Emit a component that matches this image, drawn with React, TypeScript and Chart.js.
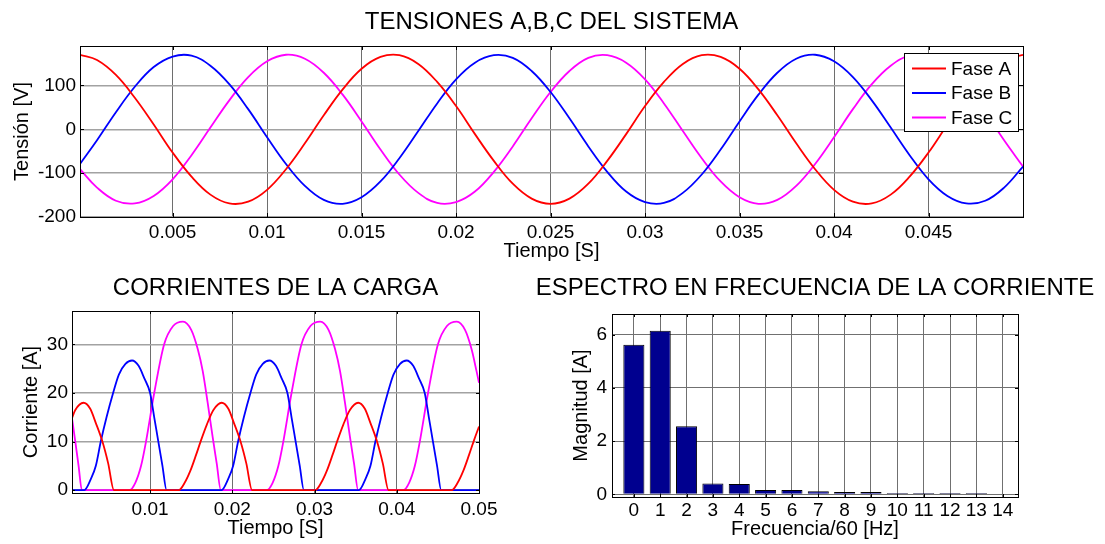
import { useEffect, useRef } from 'react';
import { Chart, registerables } from 'chart.js';

Chart.register(...registerables);

const FONT = "'Liberation Sans', Arial, Helvetica, sans-serif";

// ---- Supply voltages (V) ----
const voltageTime = [
  0.0001, 0.001, 0.002, 0.003, 0.004, 0.005, 0.006, 0.007, 0.008, 0.009,
  0.01, 0.011, 0.012, 0.013, 0.014, 0.015, 0.016, 0.017, 0.018, 0.019,
  0.02, 0.021, 0.022, 0.023, 0.024, 0.025, 0.026, 0.027, 0.028, 0.029,
  0.03, 0.031, 0.032, 0.033, 0.034, 0.035, 0.036, 0.037, 0.038, 0.039,
  0.04, 0.041, 0.042, 0.043, 0.044, 0.045, 0.046, 0.047, 0.048, 0.049, 0.05,
];
const voltageA = [
  170, 158, 124, 72, 11, -53, -108, -149, -169, -165,
  -138, -91, -32, 32, 91, 138, 165, 169, 149, 108,
  53, -11, -72, -124, -158, -170, -158, -124, -72, -11,
  53, 108, 149, 169, 165, 138, 91, 32, -32, -91,
  -138, -165, -169, -149, -108, -53, 11, 72, 124, 158, 170,
];
const voltageB = [
  -79, -25, 39, 97, 142, 166, 168, 145, 103, 46,
  -18, -79, -129, -161, -170, -155, -119, -66, -4, 59,
  114, 152, 169, 163, 133, 85, 25, -39, -97, -142,
  -166, -168, -145, -103, -46, 18, 79, 129, 161, 170,
  155, 119, 66, 4, -59, -114, -152, -169, -163, -133, -85,
];
const voltageC = [
  -91, -133, -163, -169, -152, -114, -59, 4, 66, 119,
  155, 170, 161, 129, 79, 18, -46, -103, -145, -168,
  -166, -142, -97, -39, 25, 85, 133, 163, 169, 152,
  114, 59, -4, -66, -119, -155, -170, -161, -129, -79,
  -18, 46, 103, 145, 168, 166, 142, 97, 39, -25, -85,
];
const voltageXTicks = [0.005, 0.01, 0.015, 0.02, 0.025, 0.03, 0.035, 0.04, 0.045];
const voltageXTickLabels = ['0.005', '0.01', '0.015', '0.02', '0.025', '0.03', '0.035', '0.04', '0.045'];
const voltageYTicks = [-200, -100, 0, 100];
const voltageYTickLabels = ['-200', '-100', '0', '100'];

// ---- Load currents (A) ----
const currentATime = [
  0.0005, 0.0009, 0.0019, 0.0027, 0.0034, 0.0042, 0.0049, 0.0056,
  0.0135, 0.0142, 0.0149, 0.0156, 0.0162, 0.0169, 0.0177, 0.0187, 0.0195, 0.0202, 0.021, 0.0217, 0.0224,
  0.0301, 0.0308, 0.0315, 0.0322, 0.0328, 0.0335, 0.0343, 0.0353, 0.0361, 0.0368, 0.0376, 0.0383, 0.039,
  0.0467, 0.0474, 0.0481, 0.0488, 0.0494, 0.05,
];
const currentA = [
  14.8, 16.5, 18.0, 16.8, 13.8, 10.0, 5.5, 0,
  0, 1.5, 4.0, 7.3, 10.3, 13.5, 16.5, 18.0, 16.8, 13.8, 10.0, 5.5, 0,
  0, 1.5, 4.0, 7.3, 10.3, 13.5, 16.5, 18.0, 16.8, 13.8, 10.0, 5.5, 0,
  0, 1.5, 4.0, 7.3, 10.3, 13.1,
];
const currentBTime = [
  0.0005,
  0.002, 0.0028, 0.0034, 0.004, 0.0047, 0.0055, 0.0062, 0.007, 0.0078, 0.0086, 0.0093, 0.01, 0.0105, 0.011, 0.0115, 0.012,
  0.0187, 0.0195, 0.0201, 0.0207, 0.0214, 0.0222, 0.0229, 0.0237, 0.0245, 0.0253, 0.026, 0.0267, 0.0272, 0.0277, 0.0282, 0.0287,
  0.0354, 0.0362, 0.0368, 0.0374, 0.0381, 0.0389, 0.0396, 0.0404, 0.0412, 0.042, 0.0427, 0.0434, 0.0439, 0.0444, 0.0449, 0.0454,
  0.05,
];
const currentB = [
  0,
  0, 2.3, 5, 10, 15, 20, 23.8, 26, 26.7, 25.6, 23, 20, 15, 10, 5, 0,
  0, 2.3, 5, 10, 15, 20, 23.8, 26, 26.7, 25.6, 23, 20, 15, 10, 5, 0,
  0, 2.3, 5, 10, 15, 20, 23.8, 26, 26.7, 25.6, 23, 20, 15, 10, 5, 0,
  0,
];
const currentCTime = [
  0.0005, 0.0009, 0.0013, 0.0017,
  0.0075, 0.0082, 0.0089, 0.0095, 0.0105, 0.0117, 0.0128, 0.014, 0.015, 0.0158, 0.0164, 0.017, 0.0176, 0.0181, 0.0186,
  0.0242, 0.0249, 0.0256, 0.0262, 0.0272, 0.0284, 0.0295, 0.0307, 0.0317, 0.0325, 0.0331, 0.0337, 0.0343, 0.0348, 0.0353,
  0.0408, 0.0415, 0.0422, 0.0428, 0.0438, 0.045, 0.0461, 0.0473, 0.0483, 0.0491, 0.0497, 0.05,
];
const currentC = [
  14.8, 10, 5, 0,
  0, 1.5, 5, 10, 20, 30, 33.8, 34.7, 33, 29, 24.5, 18, 11, 5.5, 0,
  0, 1.5, 5, 10, 20, 30, 33.8, 34.7, 33, 29, 24.5, 18, 11, 5.5, 0,
  0, 1.5, 5, 10, 20, 30, 33.8, 34.7, 33, 29, 24.5, 22.1,
];
const currentXTicks = [0.01, 0.02, 0.03, 0.04, 0.05];
const currentXTickLabels = ['0.01', '0.02', '0.03', '0.04', '0.05'];
const currentYTicks = [0, 10, 20, 30];
const currentYTickLabels = ['0', '10', '20', '30'];

// ---- Current spectrum ----
const harmonicOrder = [0, 1, 2, 3, 4, 5, 6, 7, 8, 9, 10, 11, 12, 13, 14];
const harmonicMagnitude = [5.62, 6.15, 2.56, 0.41, 0.39, 0.16, 0.16, 0.12, 0.09, 0.09, 0.05, 0.05, 0.05, 0.05, 0.02];
const spectrumYTicks = [0, 2, 4, 6];
const spectrumYTickLabels = ['0', '2', '4', '6'];

const tickFont = { family: FONT, size: 19 };
const labelFont = { family: FONT, size: 20, lineHeight: 1.2 };

const fixedTicks = (values: number[]) => (axis: any) => {
  axis.ticks = values.map((value) => ({ value }));
};
const fitWidth = (w: number) => (axis: any) => {
  axis.width = w;
  axis.paddingTop = 0;
  axis.paddingBottom = 0;
};
const fitHeight = (h: number) => (axis: any) => {
  axis.height = h;
  axis.paddingLeft = 0;
  axis.paddingRight = 0;
};

// Axes box, inward tick marks, heading and an in-plot legend
const axesDecor = {
  id: 'axesDecor',
  afterDatasetsDraw(chart: any, _args: any, opts: any) {
    const { ctx, chartArea: a } = chart;
    const xs = chart.scales.x;
    const ys = chart.scales.y;
    ctx.save();

    if (opts.legend) {
      const L = opts.legend;
      ctx.fillStyle = '#fff';
      ctx.fillRect(L.left, L.top, L.right - L.left, L.bottom - L.top);
      ctx.strokeStyle = '#000';
      ctx.lineWidth = 1;
      ctx.strokeRect(L.left + 0.5, L.top + 0.5, L.right - L.left, L.bottom - L.top);
      ctx.font = `19px ${FONT}`;
      ctx.textAlign = 'left';
      ctx.textBaseline = 'middle';
      chart.data.datasets.forEach((ds: any, i: number) => {
        const y = L.firstRow + i * L.rowGap;
        ctx.strokeStyle = ds.borderColor;
        ctx.lineWidth = 1.8;
        ctx.beginPath();
        ctx.moveTo(L.lineFrom, y);
        ctx.lineTo(L.lineTo, y);
        ctx.stroke();
        ctx.fillStyle = '#000';
        ctx.fillText(ds.label, L.textX, y + 1);
      });
    }

    ctx.strokeStyle = '#000';
    ctx.lineWidth = 1;
    const len = opts.tickLength;
    ctx.beginPath();
    xs.ticks.forEach((t: any) => {
      const p = Math.round(xs.getPixelForValue(t.value)) + 0.5;
      ctx.moveTo(p, a.top);
      ctx.lineTo(p, a.top + len);
      ctx.moveTo(p, a.bottom);
      ctx.lineTo(p, a.bottom - len);
    });
    ys.ticks.forEach((t: any) => {
      const p = Math.round(ys.getPixelForValue(t.value)) + 0.5;
      ctx.moveTo(a.left, p);
      ctx.lineTo(a.left + len, p);
      ctx.moveTo(a.right, p);
      ctx.lineTo(a.right - len, p);
    });
    ctx.stroke();
    ctx.strokeRect(Math.round(a.left) + 0.5, Math.round(a.top) + 0.5, Math.round(a.right - a.left), Math.round(a.bottom - a.top));

    ctx.fillStyle = '#000';
    ctx.font = `24px ${FONT}`;
    ctx.textAlign = 'center';
    ctx.textBaseline = 'middle';
    ctx.fillText(opts.heading, (a.left + a.right) / 2, opts.headingY);
    ctx.restore();
  },
};

const vGrid = { color: '#6e6e6e', lineWidth: 1, drawTicks: false };
const hGrid = { color: '#a2a2a2', lineWidth: 1.5, drawTicks: false };

function buildVoltage(canvas: HTMLCanvasElement) {
  const series = [
    { label: 'Fase A', values: voltageA, color: '#ff0000' },
    { label: 'Fase B', values: voltageB, color: '#0000ff' },
    { label: 'Fase C', values: voltageC, color: '#ff00ff' },
  ];
  return new Chart(canvas, {
    type: 'line',
    data: {
      datasets: series.map((s) => ({
        label: s.label,
        data: voltageTime.map((t, i) => ({ x: t, y: s.values[i] })),
        borderColor: s.color,
        backgroundColor: s.color,
        borderWidth: 1.8,
        pointRadius: 0,
        tension: 0.4,
      })),
    },
    options: {
      responsive: false,
      animation: false,
      layout: { padding: { left: 0, right: 82, top: 46, bottom: 8 } },
      plugins: {
        legend: { display: false },
        tooltip: { enabled: false },
        axesDecor: {
          heading: 'TENSIONES A,B,C DEL SISTEMA',
          headingY: 22,
          tickLength: 4,
          legend: { left: 904, top: 53, right: 1018, bottom: 131, firstRow: 68.5, rowGap: 24.5, lineFrom: 912, lineTo: 946, textX: 951 },
        },
      } as any,
      scales: {
        x: {
          type: 'linear',
          min: 0.0001,
          max: 0.05,
          afterBuildTicks: fixedTicks(voltageXTicks),
          afterFit: fitHeight(55),
          ticks: { callback: (_v: any, i: number) => voltageXTickLabels[i], font: tickFont, color: '#000', padding: 4, autoSkip: false, maxRotation: 0 },
          grid: vGrid,
          border: { display: false },
          title: { display: true, text: 'Tiempo [S]', font: labelFont, color: '#000', padding: { top: 0, bottom: 9 } },
        },
        y: {
          type: 'linear',
          min: -200,
          max: 190,
          afterBuildTicks: fixedTicks(voltageYTicks),
          afterFit: fitWidth(80),
          ticks: { callback: (_v: any, i: number) => voltageYTickLabels[i], font: tickFont, color: '#000', padding: 4 },
          grid: hGrid,
          border: { display: false },
          title: { display: true, text: 'Tensión [V]', font: labelFont, color: '#000', padding: { top: 10.5, bottom: 0 } },
        },
      },
    },
    plugins: [axesDecor],
  } as any);
}

function buildCurrent(canvas: HTMLCanvasElement) {
  const series = [
    { label: 'Fase A', time: currentATime, values: currentA, color: '#ff0000' },
    { label: 'Fase B', time: currentBTime, values: currentB, color: '#0000ff' },
    { label: 'Fase C', time: currentCTime, values: currentC, color: '#ff00ff' },
  ];
  return new Chart(canvas, {
    type: 'line',
    data: {
      datasets: series.map((s) => ({
        label: s.label,
        data: s.time.map((t, i) => ({ x: t, y: s.values[i] })),
        borderColor: s.color,
        backgroundColor: s.color,
        borderWidth: 1.8,
        pointRadius: 0,
        cubicInterpolationMode: 'monotone',
      })),
    },
    options: {
      responsive: false,
      animation: false,
      layout: { padding: { left: 0, right: 51, top: 41, bottom: 1 } },
      plugins: {
        legend: { display: false },
        tooltip: { enabled: false },
        axesDecor: { heading: 'CORRIENTES DE LA CARGA', headingY: 18.5, tickLength: 3 },
      } as any,
      scales: {
        x: {
          type: 'linear',
          min: 0.0005,
          max: 0.05,
          afterBuildTicks: fixedTicks(currentXTicks),
          afterFit: fitHeight(50),
          ticks: { callback: (_v: any, i: number) => currentXTickLabels[i], font: tickFont, color: '#000', padding: 5, autoSkip: false, maxRotation: 0 },
          grid: vGrid,
          border: { display: false },
          title: { display: true, text: 'Tiempo [S]', font: labelFont, color: '#000', padding: { top: 0, bottom: 2.3 } },
        },
        y: {
          type: 'linear',
          min: -0.6,
          max: 36.9,
          afterBuildTicks: fixedTicks(currentYTicks),
          afterFit: fitWidth(72),
          ticks: { callback: (_v: any, i: number) => currentYTickLabels[i], font: tickFont, color: '#000', padding: 4 },
          grid: hGrid,
          border: { display: false },
          title: { display: true, text: 'Corriente [A]', font: labelFont, color: '#000', padding: { top: 19, bottom: 0 } },
        },
      },
    },
    plugins: [axesDecor],
  } as any);
}

function buildSpectrum(canvas: HTMLCanvasElement) {
  const grid = { color: '#707070', lineWidth: 1, drawTicks: false, offset: false };
  return new Chart(canvas, {
    type: 'bar',
    data: {
      datasets: [
        {
          label: 'Magnitud',
          data: harmonicOrder.map((h, i) => ({ x: h, y: harmonicMagnitude[i] })),
          backgroundColor: '#00008f',
          borderColor: '#000000',
          borderWidth: 1,
          barPercentage: 0.8,
          categoryPercentage: 1,
        },
      ],
    },
    options: {
      responsive: false,
      animation: false,
      layout: { padding: { left: 0, right: 87, top: 44, bottom: 0 } },
      plugins: {
        legend: { display: false },
        tooltip: { enabled: false },
        axesDecor: { heading: 'ESPECTRO EN FRECUENCIA DE LA CORRIENTE', headingY: 18.5, tickLength: 3 },
      } as any,
      scales: {
        x: {
          type: 'linear',
          min: -0.83,
          max: 14.58,
          offset: false,
          afterBuildTicks: fixedTicks(harmonicOrder),
          afterFit: fitHeight(47),
          ticks: { callback: (_v: any, i: number) => String(harmonicOrder[i]), font: tickFont, color: '#000', padding: 2, autoSkip: false, maxRotation: 0 },
          grid,
          border: { display: false },
          title: { display: true, text: 'Frecuencia/60 [Hz]', font: labelFont, color: '#000', padding: { top: 0, bottom: 3 } },
        },
        y: {
          type: 'linear',
          min: -0.1,
          max: 6.78,
          afterBuildTicks: fixedTicks(spectrumYTicks),
          afterFit: fitWidth(82),
          ticks: { callback: (_v: any, i: number) => spectrumYTickLabels[i], font: tickFont, color: '#000', padding: 5 },
          grid,
          border: { display: false },
          title: { display: true, text: 'Magnitud [A]', font: labelFont, color: '#000', padding: { top: 39, bottom: 0 } },
        },
      },
    },
    plugins: [axesDecor],
  } as any);
}

type Box = { left: number; top: number; width: number; height: number };

function ChartCanvas({ box, build }: { box: Box; build: (c: HTMLCanvasElement) => Chart }) {
  const ref = useRef<HTMLCanvasElement>(null);
  useEffect(() => {
    if (!ref.current) return;
    const chart = build(ref.current);
    return () => chart.destroy();
  }, [build]);
  return (
    <canvas
      ref={ref}
      width={box.width}
      height={box.height}
      style={{ position: 'absolute', left: box.left, top: box.top, width: box.width, height: box.height }}
    />
  );
}

export default function App() {
  return (
    <div style={{ position: 'absolute', left: 0, top: 0, width: 1105, height: 544, background: '#fff', overflow: 'hidden' }}>
      <ChartCanvas box={{ left: 0, top: 0, width: 1105, height: 280 }} build={buildVoltage} />
      <ChartCanvas box={{ left: 0, top: 270, width: 530, height: 274 }} build={buildCurrent} />
      <ChartCanvas box={{ left: 530, top: 270, width: 575, height: 274 }} build={buildSpectrum} />
    </div>
  );
}
